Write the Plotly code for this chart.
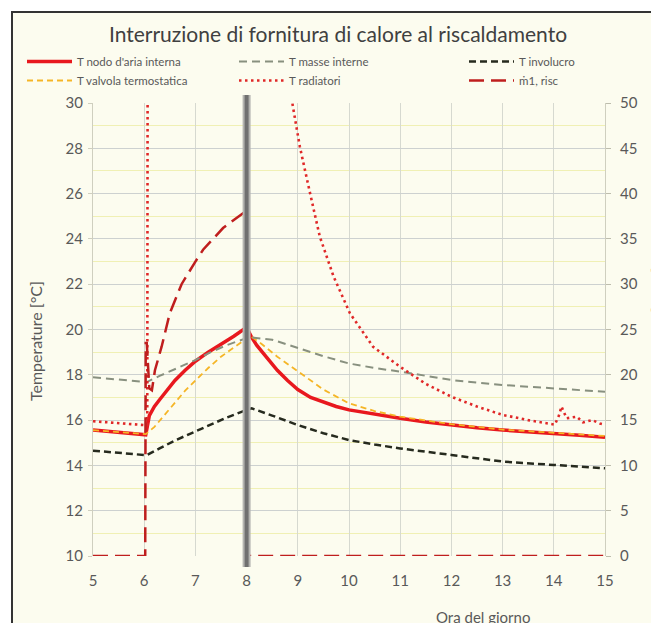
import plotly.graph_objects as go

# ---------------- data ----------------
aria_x = [5, 5.5, 6.0, 6.03, 6.1, 6.2, 6.3, 6.45, 6.6, 6.8, 7.0, 7.25, 7.5, 7.75, 8.0,
          8.1, 8.2, 8.33, 8.45, 8.6, 8.8, 9.0, 9.25, 9.5, 9.75, 10, 10.5, 11, 11.5, 12,
          12.5, 13, 13.5, 14, 14.5, 15]
aria_y = [15.56, 15.47, 15.38, 15.35, 16.2, 16.6, 16.9, 17.35, 17.75, 18.2, 18.6, 19.0,
          19.35, 19.7, 20.1, 19.65, 19.3, 18.95, 18.6, 18.2, 17.75, 17.35, 17.0, 16.78,
          16.6, 16.45, 16.25, 16.08, 15.92, 15.78, 15.66, 15.56, 15.49, 15.42, 15.33, 15.24]

masse_x = [5, 5.5, 6.0, 6.05, 6.3, 6.6, 7.0, 7.3, 7.6, 8.0, 8.1, 8.5, 9.0, 9.5, 10,
           10.5, 11, 12, 13, 14, 15]
masse_y = [17.89, 17.8, 17.7, 17.68, 17.95, 18.25, 18.65, 19.0, 19.3, 19.62, 19.65,
           19.55, 19.17, 18.82, 18.5, 18.3, 18.14, 17.77, 17.55, 17.4, 17.25]

invol_x = [5, 5.5, 6.0, 6.05, 6.3, 6.6, 7.0, 7.3, 7.6, 8.0, 8.1, 8.5, 9.0, 9.5, 10,
           10.5, 11, 12, 13, 14, 15]
invol_y = [14.65, 14.55, 14.46, 14.45, 14.75, 15.1, 15.5, 15.8, 16.1, 16.45, 16.52,
           16.2, 15.78, 15.42, 15.12, 14.92, 14.75, 14.46, 14.17, 14.02, 13.87]

valv_x = [5, 6.0, 6.03, 6.2, 6.4, 6.6, 6.8, 7.0, 7.25, 7.5, 7.75, 8.0, 8.05, 8.3, 8.6,
          9.0, 9.5, 10, 10.5, 11, 12, 13, 14, 15]
valv_y = [15.56, 15.38, 15.38, 15.7, 16.25, 16.8, 17.3, 17.75, 18.3, 18.8, 19.2, 19.6,
          19.75, 19.35, 18.8, 18.14, 17.35, 16.74, 16.4, 16.15, 15.82, 15.58, 15.44, 15.3]

rad_x = [5, 5.5, 6.0, 6.06, 6.08, 7, 8, 8.6, 8.85, 8.91, 9.04, 9.24, 9.43, 9.7, 10.02,
         10.47, 11, 11.5, 12, 12.5, 13, 13.5, 13.93, 14.02, 14.1, 14.15, 14.25, 14.35,
         14.45, 14.57, 14.75, 14.9, 15]
rad_y = [15.95, 15.85, 15.78, 15.78, 60, 60, 60, 40, 30.6, 29.77, 28.07, 26.01, 24.1,
         22.33, 20.71, 19.24, 18.35, 17.6, 17.03, 16.6, 16.23, 16.0, 15.86, 15.8, 16.2,
         16.6, 16.08, 16.1, 16.15, 15.9, 16.0, 15.85, 15.8]

m1_x = [5, 6.02, 6.03, 6.05, 6.1, 6.15, 6.21, 6.34, 6.5, 6.73, 7.0, 7.15, 7.54, 7.97,
        8.0, 8.0, 15]
m1_y = [0, 0, 23.5, 23.5, 18.5, 18.3, 20.5, 23.1, 26.8, 30.0, 32.5, 33.8, 36.2, 38.0,
        38.0, 0, 0]

x_ticks = [5, 6, 7, 8, 9, 10, 11, 12, 13, 14, 15]

FONT = "Lato"
TXT = "#595959"
BG = "#fcfcef"

# page is shown with an 8px body margin -> shift everything by OFF
OFF = 8
L, T = 93 - OFF, 103 - OFF          # plot left / top in figure px
W, H = 512, 453                      # plot width / height
R = 659 - (L + W)
B = 623 - (T + H)


def px(xp):   # page px -> paper x
    return (xp - OFF - L) / W


def py(yp):   # page px -> paper y
    return (T + H - (yp - OFF)) / H


fig = go.Figure()

fig.add_trace(go.Scatter(x=aria_x, y=aria_y, mode="lines", name="T nodo d'aria interna",
                         legend="legend", line=dict(color="#e8181e", width=3.5)))
fig.add_trace(go.Scatter(x=valv_x, y=valv_y, mode="lines", name="T valvola termostatica",
                         legend="legend",
                         line=dict(color="#f5b526", width=1.8, dash="6px,4px")))
fig.add_trace(go.Scatter(x=masse_x, y=masse_y, mode="lines", name="T masse interne",
                         legend="legend2",
                         line=dict(color="#88907f", width=2, dash="8px,5px")))
fig.add_trace(go.Scatter(x=rad_x, y=rad_y, mode="lines", name="T radiatori",
                         legend="legend2",
                         line=dict(color="#e02828", width=2.6, dash="2.5px,3.5px")))
fig.add_trace(go.Scatter(x=invol_x, y=invol_y, mode="lines", name="T involucro",
                         legend="legend3",
                         line=dict(color="#262a1e", width=2.5, dash="7px,4px")))
fig.add_trace(go.Scatter(x=m1_x, y=m1_y, mode="lines", name="\u1e411, risc", yaxis="y2",
                         legend="legend3",
                         line=dict(color="#bf1e1e", width=2.5, dash="15px,7px")))

# thick grey marker at 8:00
fig.add_shape(type="line", xref="x", yref="paper", x0=8, x1=8, y0=py(567), y1=py(95),
              line=dict(color="#b4b4b0", width=8), layer="above")
fig.add_shape(type="line", xref="x", yref="paper", x0=8, x1=8, y0=py(567), y1=py(95),
              line=dict(color="#707070", width=4), layer="above")

# outer frame (cropped screenshot)
fig.add_shape(type="rect", xref="paper", yref="paper",
              x0=px(12), x1=px(720), y0=py(720), y1=py(12),
              line=dict(color="#333333", width=2), fillcolor=BG, layer="below")

fig.add_annotation(text="Temperature [°C]", xref="paper", yref="paper",
                   x=px(35), y=py(341), textangle=-90, showarrow=False,
                   xanchor="center", yanchor="middle",
                   font=dict(family=FONT, size=16, color=TXT))
fig.add_annotation(text="Portate [l/min]", xref="paper", yref="paper",
                   x=px(656), y=py(318), textangle=-90, showarrow=False,
                   xanchor="center", yanchor="middle",
                   font=dict(family=FONT, size=16, color=TXT))
fig.add_annotation(text="Ora del giorno", xref="paper", yref="paper",
                   x=px(483), y=py(617), showarrow=False,
                   xanchor="center", yanchor="middle",
                   font=dict(family=FONT, size=15, color=TXT))

leg_common = dict(orientation="v", xanchor="left", yanchor="top", y=py(47),
                  font=dict(family=FONT, size=11.5, color=TXT),
                  bgcolor="rgba(0,0,0,0)", tracegroupgap=0, itemwidth=45)

fig.update_layout(
    width=659, height=623,
    margin=dict(l=L, r=R, t=T, b=B),
    paper_bgcolor="white", plot_bgcolor=BG,
    font=dict(family=FONT, color=TXT, size=14),
    title=dict(text="Interruzione di fornitura di calore al riscaldamento",
               x=(338 - OFF) / 659, xref="container", xanchor="center",
               y=(623 - (35 - OFF)) / 623, yref="container", yanchor="middle",
               font=dict(family=FONT, size=21, color="#404040")),
    showlegend=True,
    legend=dict(x=px(22), **leg_common),
    legend2=dict(x=px(234), **leg_common),
    legend3=dict(x=px(464), **leg_common),
    xaxis=dict(range=[5, 15], tickmode="array", tickvals=x_ticks,
               ticktext=[str(v) for v in x_ticks],
               showgrid=True, gridcolor="#d6d9d0", gridwidth=1, zeroline=False,
               showline=False, ticks="", ticklabelstandoff=14,
               tickfont=dict(size=15, color=TXT)),
    yaxis=dict(range=[10, 30], dtick=2, showgrid=True, gridcolor="#cdd1d0", zeroline=False,
               showline=True, linecolor="#cfcfbf", ticks="outside", ticklen=4,
               tickcolor="#cfcfbf", ticklabelstandoff=2,
               minor=dict(dtick=1, showgrid=True, gridcolor="#f0f0b4"),
               tickfont=dict(size=15, color=TXT)),
    yaxis2=dict(range=[0, 50], dtick=5, overlaying="y", side="right", showgrid=False,
                zeroline=False, showline=True, linecolor="#cfcfbf", ticks="outside",
                ticklen=5, tickcolor="#bdbdad", ticklabelstandoff=6,
                tickfont=dict(size=15, color=TXT)),
)

fig.write_html("out.html")
